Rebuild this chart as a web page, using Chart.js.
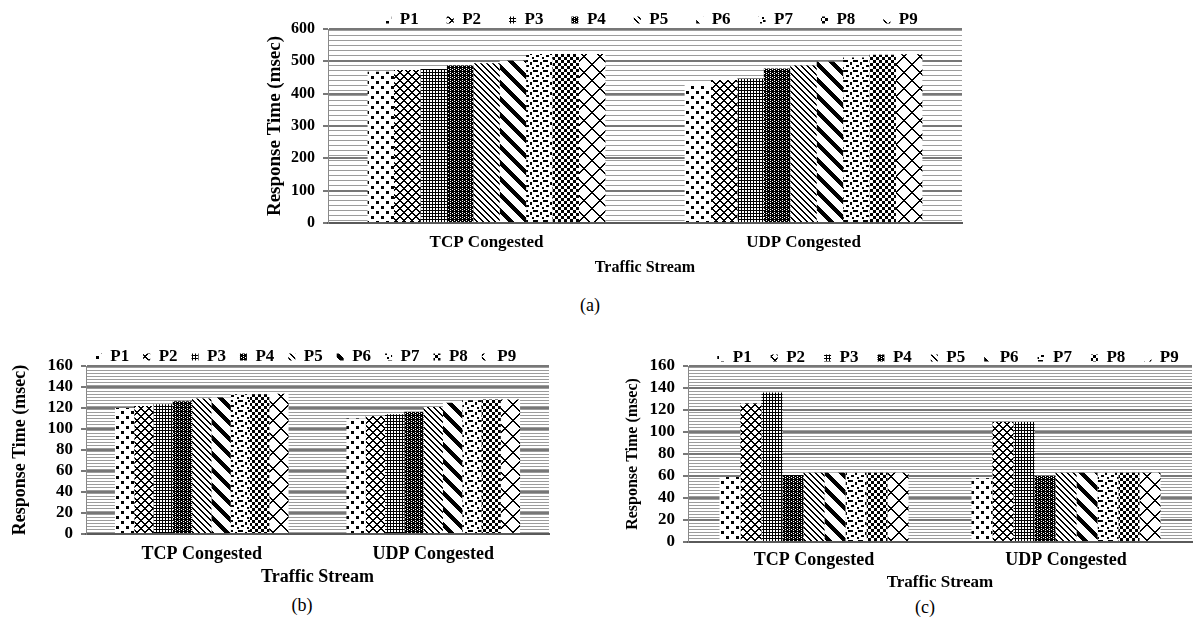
<!DOCTYPE html>
<html>
<head>
<meta charset="utf-8">
<script src="https://cdn.jsdelivr.net/npm/chart.js@4.4.1/dist/chart.umd.min.js"></script>
<style>
html, body { margin: 0; padding: 0; background: #fff; }
body { width: 1198px; height: 619px; position: relative; overflow: hidden;
       font-family: "Liberation Serif", "Times New Roman", serif; }
.box { position: absolute; }
.cap { position: absolute; font-size: 18px; line-height: 18px; transform: translateX(-50%); color: #000; }
</style>
</head>
<body>
<div class="box" style="left:255px;top:0;width:715px;height:277px"><canvas id="chartA"></canvas></div>
<div class="box" style="left:0;top:340px;width:556px;height:248px"><canvas id="chartB"></canvas></div>
<div class="box" style="left:610px;top:340px;width:586px;height:255px"><canvas id="chartC"></canvas></div>
<div class="cap" style="left:590px;top:296px">(a)</div>
<div class="cap" style="left:302px;top:596px">(b)</div>
<div class="cap" style="left:925px;top:598px">(c)</div>

<script>
// --- data ---
const categories = ['TCP Congested', 'UDP Congested'];
const seriesNames = ['P1', 'P2', 'P3', 'P4', 'P5', 'P6', 'P7', 'P8', 'P9'];

// (a) response time (msec), P1..P9
const tcpA = [468, 473, 476, 487, 494, 502, 523, 523, 523];
const udpA = [429, 442, 447, 478, 487, 499, 512, 520, 522];
const yMaxA = 600, yStepA = 100;

// (b)
const tcpB = [120, 122, 123.5, 126.5, 129, 130, 133, 133, 133.5];
const udpB = [110, 112.5, 114, 116.5, 121, 125, 127.5, 128, 128];
const yMaxB = 160, yStepB = 20;

// (c)
const tcpC = [59, 126, 136, 61, 63, 63, 63, 63, 63];
const udpC = [58, 109, 109, 60, 63, 63, 63, 63, 63];
const yMaxC = 160, yStepC = 20;

const axisTitle = 'Response Time (msec)';
const xTitle = 'Traffic Stream';

// --- black & white fill patterns (like the Excel pattern fills) ---
function tile(w, h, ink) {
    const c = document.createElement('canvas');
    c.width = w; c.height = h;
    const g = c.getContext('2d');
    const img = g.createImageData(w, h);
    for (let y = 0; y < h; y++) {
        for (let x = 0; x < w; x++) {
            const i = (y * w + x) * 4;
            const v = ink(x, y) ? 0 : 255;
            img.data[i] = img.data[i + 1] = img.data[i + 2] = v;
            img.data[i + 3] = 255;
        }
    }
    g.putImageData(img, 0, 0);
    return g.createPattern(c, 'repeat');
}

const mod = (a, n) => ((a % n) + n) % n;
const patterns = [
    // P1 dots
    tile(10, 10, (x, y) => (x >= 1 && x < 4 && y >= 1 && y < 4) || (x >= 6 && x < 9 && y >= 6 && y < 9)),
    // P2 small diamond lattice
    tile(8, 8, (x, y) => mod(x + y, 8) < 2 || mod(x - y, 8) < 2),
    // P3 fine grid
    tile(3, 3, (x, y) => x % 3 === 0 || y % 3 === 0),
    // P4 dense dark verticals
    tile(4, 4, (x, y) => !((x === 3 && y % 2 === 0) || (x === 1 && y === 1))),
    // P5 narrow diagonals
    tile(6, 6, (x, y) => mod(x - y, 6) < 2),
    // P6 wide diagonals
    tile(16, 16, (x, y) => mod(x - y, 16) < 6),
    // P7 confetti
    tile(10, 10, (x, y) => (x < 3 && y < 2) || (x >= 5 && x < 7 && y >= 2 && y < 5) ||
        (x >= 1 && x < 4 && y >= 5 && y < 7) || (x >= 7 && x < 9 && y >= 7 && y < 9) ||
        (x >= 8 && y >= 0 && y < 2)),
    // P8 checkerboard
    tile(6, 6, (x, y) => (Math.floor(x / 3) + Math.floor(y / 3)) % 2 === 0),
    // P9 large cross-hatch
    tile(16, 16, (x, y) => mod(x + y, 16) < 2 || mod(x - y, 16) < 2)
];

// --- plugins ---
// grey horizontal stripes behind the bars
const plotStripes = {
    id: 'plotStripes',
    beforeDraw(chart, args, opts) {
        const { ctx, chartArea: a } = chart;
        const c = document.createElement('canvas');
        c.width = 4; c.height = opts.gap;
        const g = c.getContext('2d');
        g.fillStyle = '#fff'; g.fillRect(0, 0, 4, opts.gap);
        g.fillStyle = opts.color; g.fillRect(0, 0, 4, 1);
        ctx.save();
        ctx.fillStyle = ctx.createPattern(c, 'repeat');
        ctx.fillRect(a.left, a.top, a.right - a.left, a.bottom - a.top);
        ctx.restore();
    }
};

// fixed legend height, legend line at a given y and shifted by dx (canvas px)
const legendPlace = {
    id: 'legendPlace',
    beforeLayout(chart, args, opts) {
        const lg = chart.legend;
        if (lg && !lg._fitPatched) {
            const fit = lg.fit;
            lg.fit = function () { fit.call(this); this.height = opts.height; };
            lg._fitPatched = true;
        }
    },
    afterLayout(chart, args, opts) {
        const lg = chart.legend;
        lg.top = opts.y - opts.pad - opts.size / 2;
        lg.bottom = opts.y + opts.size;   // keep the clip box around the text
        lg.left += opts.dx;
        lg.right += opts.dx;
    }
};

const serif = "'Liberation Serif', 'Times New Roman', serif";
Chart.defaults.font.family = serif;
Chart.defaults.color = '#000';

function makeChart(id, tcp, udp, yMax, yStep, cfg) {
    const datasets = seriesNames.map((name, i) => ({
        label: name,
        data: [tcp[i], udp[i]],
        backgroundColor: patterns[i],
        borderWidth: 0,
        barPercentage: 1,
        categoryPercentage: 0.75
    }));

    return new Chart(document.getElementById(id), {
        type: 'bar',
        data: { labels: categories, datasets: datasets },
        plugins: [plotStripes, legendPlace],
        options: {
            responsive: true,
            maintainAspectRatio: false,
            animation: false,
            layout: { padding: { left: 0, right: cfg.padRight, top: 0, bottom: 0 } },
            plugins: {
                tooltip: { enabled: false },
                plotStripes: { gap: cfg.stripeGap, color: '#9c9c9c' },
                legendPlace: { height: cfg.legendHeight, y: cfg.legendY, dx: cfg.legendDx,
                               pad: cfg.legendPad, size: 17 },
                legend: {
                    position: 'top',
                    fullSize: false,
                    labels: {
                        boxWidth: 7,
                        boxHeight: 7,
                        padding: cfg.legendPad,
                        font: { size: 17, weight: 'bold' }
                    }
                }
            },
            scales: {
                x: {
                    grid: { display: false, drawTicks: false },
                    border: { color: '#5a5a5a', width: 2 },
                    ticks: { padding: cfg.xTickPad, font: { size: cfg.catSize, weight: 'bold' } },
                    title: {
                        display: true, text: xTitle,
                        padding: { top: 0, bottom: cfg.xTitlePadB },
                        font: { size: cfg.xTitleSize, weight: 'bold' }
                    },
                    afterFit(s) { s.height = cfg.xHeight; }
                },
                y: {
                    min: 0, max: yMax,
                    ticks: { stepSize: yStep, autoSkip: false, padding: 8,
                             font: { size: cfg.tickSize, weight: 'bold' } },
                    grid: { color: '#777', lineWidth: 2, tickLength: 5 },
                    border: { color: '#888', width: 1 },
                    title: {
                        display: true, text: axisTitle,
                        padding: { top: cfg.yTitlePad, bottom: 0 },
                        font: { size: cfg.yTitleSize, weight: 'bold' }
                    },
                    afterFit(s) { s.width = cfg.yWidth; }
                }
            }
        }
    });
}

makeChart('chartA', tcpA, udpA, yMaxA, yStepA, {
    padRight: 8, stripeGap: 5, legendHeight: 29, legendY: 20, legendDx: 6, legendPad: 28,
    xTickPad: 9, catSize: 17, xTitleSize: 16, xTitlePadB: 0, xHeight: 54,
    tickSize: 16, yTitleSize: 19, yTitlePad: 9, yWidth: 73
});
makeChart('chartB', tcpB, udpB, yMaxB, yStepB, {
    padRight: 7, stripeGap: 3, legendHeight: 26, legendY: 17, legendDx: -12, legendPad: 14,
    xTickPad: 10, catSize: 18, xTitleSize: 18, xTitlePadB: 0, xHeight: 54,
    tickSize: 17, yTitleSize: 18, yTitlePad: 10, yWidth: 86
});
makeChart('chartC', tcpC, udpC, yMaxC, yStepC, {
    padRight: 4, stripeGap: 3, legendHeight: 26, legendY: 18, legendDx: 8, legendPad: 19,
    xTickPad: 8, catSize: 18, xTitleSize: 17, xTitlePadB: 2, xHeight: 53,
    tickSize: 17, yTitleSize: 16, yTitlePad: 13, yWidth: 78
});
</script>
</body>
</html>
